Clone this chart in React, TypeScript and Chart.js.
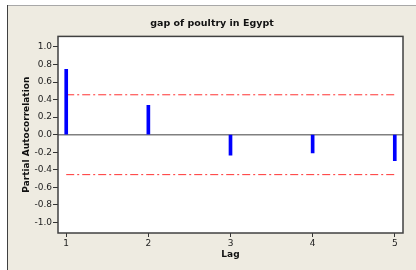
import React, { useEffect, useRef } from "react";
import { Chart, registerables } from "chart.js";

Chart.register(...registerables);

const lags = [1, 2, 3, 4, 5];
const pacf = [0.745, 0.334, -0.232, -0.209, -0.296];
const upperLimit = 0.455;
const lowerLimit = -0.455;
const yTicks = [-1.0, -0.8, -0.6, -0.4, -0.2, 0.0, 0.2, 0.4, 0.6, 0.8, 1.0];
const titleText = "gap of poultry in Egypt";
const yTitle = "Partial Autocorrelation";
const xTitle = "Lag";

const FONT = "'DejaVu Sans', Verdana, sans-serif";

const framePlugin = {
  id: "frame",
  beforeDraw(chart: any) {
    const { ctx, width, height } = chart;
    ctx.save();
    ctx.fillStyle = "#ffffff";
    ctx.fillRect(0, 0, width, height);
    ctx.fillStyle = "#eeebe1";
    ctx.fillRect(7, 5, width - 7, height - 5);
    ctx.strokeStyle = "#a8a8a8";
    ctx.lineWidth = 1;
    ctx.beginPath();
    ctx.moveTo(7, 5.5);
    ctx.lineTo(width, 5.5);
    ctx.stroke();
    ctx.strokeStyle = "#404040";
    ctx.beginPath();
    ctx.moveTo(7.5, 5);
    ctx.lineTo(7.5, height);
    ctx.stroke();
    const a = chart.chartArea;
    ctx.fillStyle = "#ffffff";
    ctx.fillRect(a.left, a.top, a.right - a.left, a.bottom - a.top);
    ctx.restore();
  },
  afterDraw(chart: any) {
    const { ctx } = chart;
    const a = chart.chartArea;
    ctx.save();
    ctx.strokeStyle = "#404040";
    ctx.lineWidth = 1.5;
    ctx.strokeRect(a.left, a.top, a.right - a.left, a.bottom - a.top);
    ctx.restore();
  },
};

export default function App() {
  const ref = useRef<HTMLCanvasElement>(null);
  useEffect(() => {
    document.body.style.margin = "0";
    const chart = new Chart(ref.current!, {
      type: "bar",
      data: {
        datasets: [
          {
            type: "line",
            data: [
              { x: 0.9, y: 0 },
              { x: 5.1, y: 0 },
            ],
            borderColor: "#808080",
            borderWidth: 1.5,
            pointRadius: 0,
            order: 3,
          } as any,
          {
            type: "line",
            data: [
              { x: lags[0], y: upperLimit },
              { x: lags[lags.length - 1], y: upperLimit },
            ],
            borderColor: "#ff3333",
            borderWidth: 1,
            borderDash: [8, 3, 2, 3],
            pointRadius: 0,
            order: 2,
          },
          {
            type: "line",
            data: [
              { x: lags[0], y: lowerLimit },
              { x: lags[lags.length - 1], y: lowerLimit },
            ],
            borderColor: "#ff3333",
            borderWidth: 1,
            borderDash: [8, 3, 2, 3],
            pointRadius: 0,
            order: 2,
          },
          {
            type: "bar",
            data: lags.map((l, i) => ({ x: l, y: pacf[i] })),
            backgroundColor: "#0000ff",
            barThickness: 3,
            order: 1,
          } as any,
        ],
      },
      options: {
        animation: false,
        responsive: false,
        layout: { padding: { left: 21, right: 13, top: 0, bottom: 0 } },
        plugins: {
          legend: { display: false },
          tooltip: { enabled: false },
          title: {
            display: true,
            text: titleText,
            color: "#111",
            font: { family: FONT, size: 9.5, weight: "bold" },
            padding: { top: 18, bottom: 7 },
          },
        },
        scales: {
          x: {
            type: "linear",
            min: 0.9,
            max: 5.1,
            offset: false,
            afterBuildTicks: (s: any) => {
              s.ticks = lags.map((v) => ({ value: v }));
            },
            afterFit: (s: any) => {
              s.height = 37;
            },
            grid: { offset: false, drawOnChartArea: false, drawTicks: true, tickLength: 4, color: "#333" },
            border: { display: false },
            ticks: {
              color: "#222",
              padding: 1,
              font: { family: FONT, size: 9 },
              callback: (v: any) => String(v),
            },
            title: {
              display: true,
              text: xTitle,
              color: "#111",
              font: { family: FONT, size: 9, weight: "bold" },
              padding: { top: 0, bottom: 10 },
            },
          },
          y: {
            type: "linear",
            min: -1.12,
            max: 1.12,
            afterBuildTicks: (s: any) => {
              s.ticks = yTicks.map((v) => ({ value: v }));
            },
            afterFit: (s: any) => {
              s.width = 37;
            },
            grid: { drawOnChartArea: false, drawTicks: true, tickLength: 5, color: "#333" },
            border: { display: false },
            ticks: {
              color: "#222",
              padding: 1,
              font: { family: FONT, size: 9 },
              callback: (v: any) => Number(v).toFixed(1),
            },
            title: {
              display: true,
              text: yTitle,
              color: "#111",
              font: { family: FONT, size: 9, weight: "bold" },
              padding: { top: 0, bottom: 0 },
            },
          },
        },
      },
      plugins: [framePlugin],
    } as any);
    return () => chart.destroy();
  }, []);
  return (
    <div style={{ position: "absolute", left: 0, top: 0, width: 416, height: 270 }}>
      <canvas ref={ref} width={416} height={270} style={{ width: 416, height: 270 }} />
    </div>
  );
}
